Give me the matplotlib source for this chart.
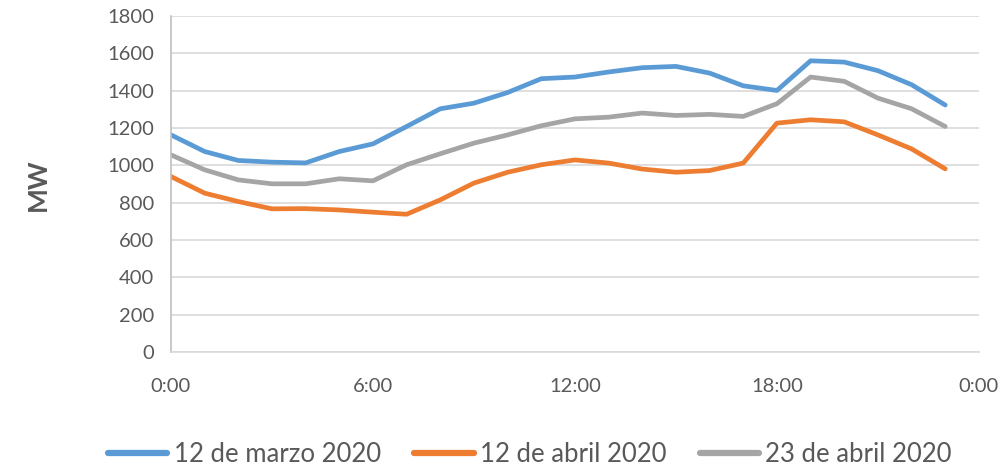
import matplotlib
matplotlib.use("Agg")
import matplotlib.pyplot as plt

hours = list(range(24))
marzo12 = [1163, 1074, 1026, 1017, 1013, 1074, 1115, 1208, 1303, 1333, 1390, 1464,
           1473, 1500, 1523, 1530, 1494, 1426, 1401, 1560, 1553, 1507, 1432, 1323]
abril12 = [940, 851, 806, 767, 768, 761, 749, 738, 815, 905, 963, 1003,
           1029, 1012, 980, 963, 972, 1012, 1226, 1244, 1233, 1163, 1088, 981]
abril23 = [1056, 976, 922, 901, 901, 928, 917, 1003, 1062, 1119, 1163, 1212,
           1249, 1258, 1280, 1267, 1273, 1262, 1330, 1473, 1450, 1360, 1303, 1208]
series_names = ["12 de marzo 2020", "12 de abril 2020", "23 de abril 2020"]
xtick_vals = [0, 6, 12, 18, 24]
xtick_labels = ["0:00", "6:00", "12:00", "18:00", "0:00"]
ytick_vals = list(range(0, 1801, 200))

plt.rcParams['font.family'] = ['Lato', 'DejaVu Sans']

fig = plt.figure(figsize=(10.04, 4.66), dpi=100)
ax = fig.add_axes([0.1703, 0.2446, 0.975 - 0.1703, 0.9657 - 0.2446])

colors = ["#5b9bd5", "#ed7d31", "#a5a5a5"]
for vals, name, c in zip([marzo12, abril12, abril23], series_names, colors):
    ax.plot(hours, vals, color=c, lw=3.4, label=name, solid_capstyle='round', solid_joinstyle='round')

ax.set_xlim(0, 24)
ax.set_ylim(0, 1800)
ax.set_xticks(xtick_vals)
ax.set_xticklabels(xtick_labels)
ax.set_yticks(ytick_vals)
ax.grid(axis='y', color='#d9d9d9', lw=1.2)
ax.set_axisbelow(True)
for s in ['top', 'right']:
    ax.spines[s].set_visible(False)
ax.spines['left'].set_color('#bfbfbf')
ax.spines['bottom'].set_color('#d9d9d9')
ax.spines['left'].set_linewidth(1.2)
ax.spines['bottom'].set_linewidth(1.2)
ax.tick_params(axis='both', length=0, labelsize=14.5, colors='#595959')
ax.tick_params(axis='x', pad=19)
ax.tick_params(axis='y', pad=12)

fig.text(0.038, 0.603, "MW", rotation=90, fontsize=19, fontweight='bold', color='#595959',
         ha='center', va='center')

leg = fig.legend(loc='center', bbox_to_anchor=(0.528, 0.024), ncol=3, frameon=False,
                 fontsize=18.5, handlelength=2.3, columnspacing=1.3, handletextpad=0.25)
for t in leg.get_texts():
    t.set_color('#595959')
for h in leg.get_lines():
    h.set_linewidth(4.5)

fig.savefig("out.png", dpi=100)
